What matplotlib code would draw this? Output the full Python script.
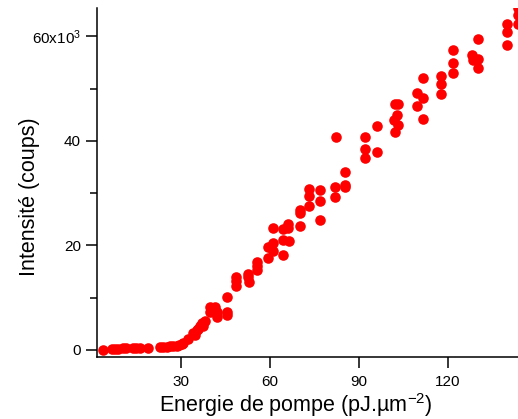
import matplotlib
matplotlib.use("Agg")
import matplotlib.pyplot as plt
from matplotlib.ticker import FixedLocator, FixedFormatter

plt.rcParams['font.family'] = ['Liberation Sans', 'DejaVu Sans']
plt.rcParams['mathtext.fontset'] = 'custom'
plt.rcParams['mathtext.rm'] = 'Liberation Sans'
plt.rcParams['mathtext.it'] = 'Liberation Sans:italic'
plt.rcParams['mathtext.bf'] = 'Liberation Sans:bold'

# Pump energy (pJ/um^2)
energy = [3.9, 6.7, 7.8, 8.9, 10.6, 11.7, 14.0, 15.1, 16.3, 19.1, 23.0, 24.2, 25.3, 26.4,
          27.5, 28.6, 29.5, 30.3, 30.9,
          32.6, 34.2, 34.8, 35.4, 35.9, 36.5, 37.1, 37.6, 38.2, 39.9, 39.9, 41.6, 42.1, 42.1,
          45.5, 45.5, 45.5,
          48.6, 48.6, 48.6, 52.8, 52.8, 53.1, 55.6, 55.6, 55.6,
          59.5, 59.5, 61.0, 61.2, 61.2, 64.4, 64.4, 64.4, 66.3, 66.3, 66.6,
          70.2, 70.2, 70.2, 73.3, 73.3, 73.3, 77.0, 77.0, 77.0,
          82.0, 82.0, 82.2, 85.4, 85.4, 85.4,
          92.1, 92.1, 92.1, 96.1, 96.1,
          102.2, 103.3, 102.8, 102.0, 103.3, 102.2,
          109.5, 109.7, 111.6, 111.6, 111.6,
          117.7, 117.7, 117.7, 121.7, 121.7, 121.7,
          128.1, 128.6, 130.3, 130.3, 130.3,
          139.9, 139.9, 139.9, 143.6, 143.6, 143.6]

# Intensity (x10^3 counts)
intensity = [0.0, 0.1, 0.15, 0.2, 0.3, 0.3, 0.35, 0.4, 0.4, 0.45, 0.5, 0.55, 0.6, 0.7,
             0.75, 0.85, 0.9, 1.1, 1.4,
             2.2, 3.2, 2.9, 3.8, 4.1, 4.5, 5.1, 4.5, 5.6, 8.3, 7.3, 8.3, 7.3, 6.4,
             10.1, 7.3, 6.7,
             14.0, 13.2, 12.2, 14.6, 13.9, 13.1, 16.9, 16.1, 15.4,
             19.8, 17.7, 20.4, 18.9, 23.3, 23.1, 21.1, 18.2, 24.2, 23.3, 20.9,
             26.8, 26.2, 23.7, 30.8, 29.4, 27.5, 30.6, 28.6, 24.9,
             31.2, 29.3, 40.8, 34.0, 31.6, 31.1,
             40.7, 38.4, 36.7, 42.9, 37.9,
             47.1, 47.1, 45.0, 44.0, 43.1, 41.7,
             49.1, 46.6, 52.0, 48.3, 44.3,
             52.5, 51.0, 48.9, 57.5, 55.0, 53.1,
             56.5, 55.5, 59.5, 55.7, 54.0,
             62.3, 60.9, 58.4, 65.4, 64.1, 62.4]

xticks = [30, 60, 90, 120]
xticklabels = ['30', '60', '90', '120']
yticks = [0, 20, 40, 60]
yticklabels = ['0', '20', '40', '60x10$^{3}$']
yminor = [10, 30, 50]

fig = plt.figure(figsize=(5.18, 4.19), dpi=100)
ax = fig.add_axes([97/518, 62/419, 421/518, 349/419])

ax.scatter(energy, intensity, s=58, color='#ff0000', linewidths=0, zorder=3, clip_on=True)

ax.set_xlim(1.8, 143.7)
ax.set_ylim(-1.34, 65.45)

ax.spines['top'].set_visible(False)
ax.spines['right'].set_visible(False)
for sp in ('left', 'bottom'):
    ax.spines[sp].set_linewidth(1.1)
    ax.spines[sp].set_color('black')

ax.xaxis.set_major_locator(FixedLocator(xticks))
ax.xaxis.set_major_formatter(FixedFormatter(xticklabels))
ax.yaxis.set_major_locator(FixedLocator(yticks))
ax.yaxis.set_major_formatter(FixedFormatter(yticklabels))
ax.yaxis.set_minor_locator(FixedLocator(yminor))

ax.tick_params(axis='both', which='major', direction='out', length=8, width=1.1,
               labelsize=11, colors='black')
ax.tick_params(axis='x', which='major', pad=5)
ax.tick_params(axis='y', which='major', pad=3.5)
ax.tick_params(axis='y', which='minor', direction='out', length=5, width=1.1)

ax.set_xlabel('Energie de pompe (pJ.µm$^{-2}$)', fontsize=15.5)
ax.set_ylabel('Intensité (coups)', fontsize=15.5)
ax.xaxis.set_label_coords(0.473, -0.097)
ax.yaxis.set_label_coords(-0.135, 0.46)

fig.savefig('out.png', dpi=100)
